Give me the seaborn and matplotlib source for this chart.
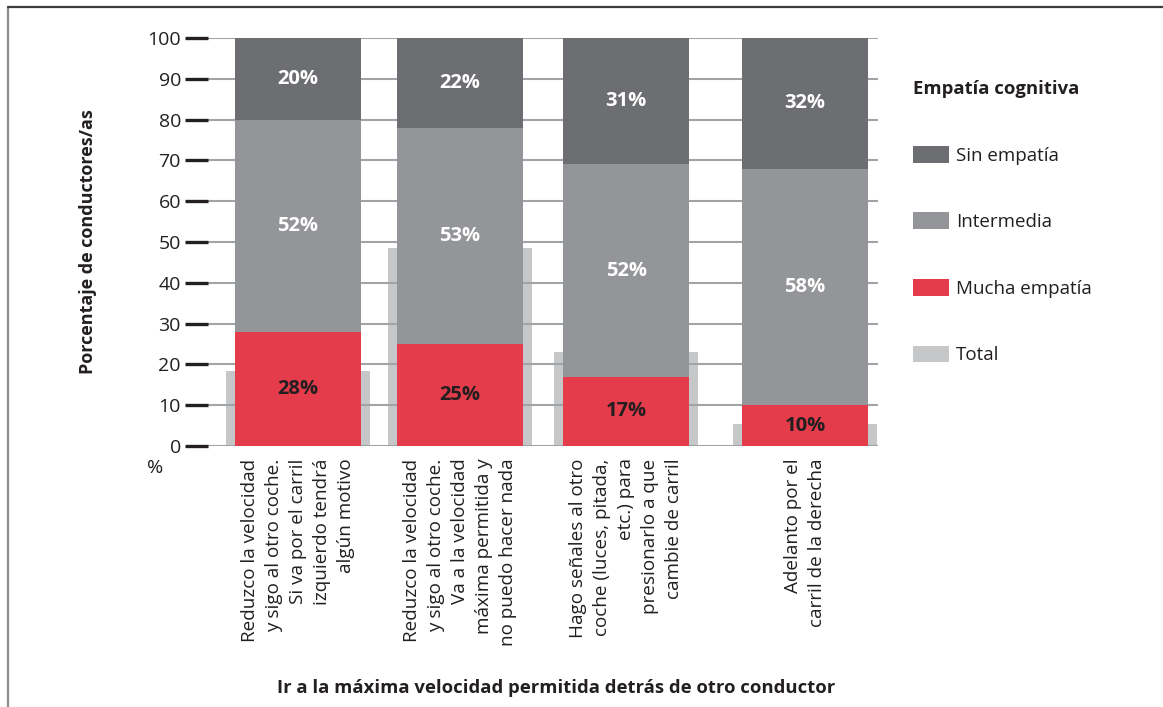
import matplotlib
matplotlib.use("Agg")
import matplotlib.pyplot as plt
import seaborn as sns
import numpy as np
from matplotlib.patches import Patch
from matplotlib.lines import Line2D

# --- data -------------------------------------------------------------
categories = [
    "Reduzco la velocidad\ny sigo al otro coche.\nSi va por el carril\nizquierdo tendrá\nalgún motivo",
    "Reduzco la velocidad\ny sigo al otro coche.\nVa a la velocidad\nmáxima permitida y\nno puedo hacer nada",
    "Hago señales al otro\ncoche (luces, pitada,\netc.) para\npresionarlo a que\ncambie de carril",
    "Adelanto por el\ncarril de la derecha",
]
mucha_empatia = [28, 25, 17, 10]
intermedia = [52, 53, 52, 58]
sin_empatia = [20, 22, 31, 32]
total = [18.5, 48.5, 23, 5.5]
y_ticks = [0, 10, 20, 30, 40, 50, 60, 70, 80, 90, 100]

legend_title = "Empatía cognitiva"
series_names = ["Sin empatía", "Intermedia", "Mucha empatía", "Total"]

# --- layout / style ---------------------------------------------------
slot = [0.0, 1.0, 2.025, 3.13]          # horizontal position of each group
C_SIN = "#6d6e71"
C_INT = "#949598"
C_MUCHA = "#e43c4a"
C_TOTAL = "#c6c7c9"
C_TEXT = "#231f20"
C_GRID = "#a2a3a5"

sns.set_style("white")
plt.rcParams["font.family"] = ["Open Sans", "DejaVu Sans"]

W, H = 1163, 707
fig = plt.figure(figsize=(W / 100, H / 100), dpi=100)
ax = fig.add_axes([208 / W, 1 - 446 / H, 670 / W, 408 / H])

# wide light bar with the overall share, behind the stacked bars
sns.barplot(x=slot, y=total, native_scale=True, width=0.889, color=C_TOTAL,
            saturation=1, linewidth=0, zorder=1, ax=ax)

# stacked bars drawn as overlapping cumulative heights
mid_top = np.add(mucha_empatia, intermedia)
full_top = np.add(mid_top, sin_empatia)
for heights, col in [(full_top, C_SIN), (mid_top, C_INT), (mucha_empatia, C_MUCHA)]:
    sns.barplot(x=slot, y=heights, native_scale=True, width=0.778, color=col,
                saturation=1, linewidth=0, zorder=2, ax=ax)

# segment value labels
for i, x in enumerate(slot):
    segs = [(0, mucha_empatia[i], C_TEXT),
            (mucha_empatia[i], intermedia[i], "white"),
            (mid_top[i], sin_empatia[i], "white")]
    for base, val, tc in segs:
        ax.text(x, base + val / 2, f"{val}%", ha="center", va="center",
                fontsize=14.5, fontweight="bold", color=tc, zorder=3)

ax.set_xlim(-0.5556, 3.58)
ax.set_ylim(0, 100)
ax.set_axisbelow("line")
ax.yaxis.grid(True, color=C_GRID, linewidth=1.5)
ax.xaxis.grid(False)
for s in ax.spines.values():
    s.set_visible(False)

ax.set_yticks(y_ticks)
ax.tick_params(axis="y", left=True, length=16.5, width=2.4, color=C_TEXT, pad=3,
               labelsize=14, labelcolor=C_TEXT, direction="out")
ax.set_xticks(slot)
ax.set_xticklabels(categories, rotation=90, ha="center", va="top",
                   multialignment="right", linespacing=1.42, fontsize=13.6,
                   color=C_TEXT)
ax.tick_params(axis="x", bottom=False, length=0, pad=9)
ax.set_xlabel("")
ax.set_ylabel("")

fig.text(155 / W, 1 - 468 / H, "%", ha="center", va="center",
         fontsize=14, color=C_TEXT)
fig.text(88 / W, 1 - 242 / H, "Porcentaje de conductores/as", rotation=90,
         ha="center", va="center", fontsize=13, fontweight="bold", color=C_TEXT)
fig.text(556 / W, 1 - 688 / H,
         "Ir a la máxima velocidad permitida detrás de otro conductor",
         ha="center", va="center", fontsize=13.3, fontweight="bold", color=C_TEXT)

handles = [Patch(facecolor=c, edgecolor="none") for c in (C_SIN, C_INT, C_MUCHA, C_TOTAL)]
leg = fig.legend(handles, series_names, title=legend_title, loc="upper left",
                 bbox_to_anchor=(913 / W, 1 - 80 / H), frameon=False,
                 fontsize=13.5, title_fontproperties={"weight": "bold", "size": 13.3},
                 alignment="left", handlelength=1.9, handleheight=1.0,
                 handletextpad=0.38, labelspacing=2.55, borderpad=0,
                 borderaxespad=0)
for t in leg.get_texts():
    t.set_color(C_TEXT)
leg.get_title().set_color(C_TEXT)

# outer frame (left and top edges)
fig.add_artist(Line2D([8 / W, 8 / W], [0, 1 - 7 / H], transform=fig.transFigure,
                      color="#8c8c8c", linewidth=1.6))
fig.add_artist(Line2D([8 / W, 1], [1 - 7 / H, 1 - 7 / H], transform=fig.transFigure,
                      color="#3c3c3c", linewidth=1.6))

fig.savefig("out.png", dpi=100)
